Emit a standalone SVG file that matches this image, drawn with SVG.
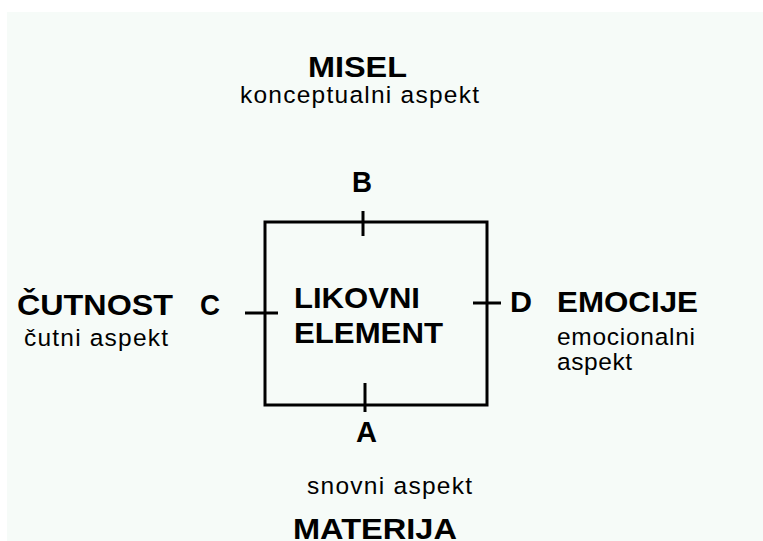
<svg xmlns="http://www.w3.org/2000/svg" width="763" height="541" viewBox="0 0 763 541">
<style>
.t{font-family:"Liberation Sans",Arial,sans-serif;font-weight:bold;font-size:30px;fill:#000}
.s{font-family:"Liberation Sans",Arial,sans-serif;font-size:24.5px;fill:#000}
.ln{stroke:#000;stroke-width:3;fill:none}
</style>
<rect x="0" y="0" width="763" height="541" fill="#ffffff"/>
<rect x="7" y="12" width="756" height="529" fill="#f6fbf8"/>
<g id="box">
<rect class="ln" x="265" y="222" width="222" height="183"/>
<text class="t" x="294" y="307.5" textLength="126" lengthAdjust="spacingAndGlyphs">LIKOVNI</text>
<text class="t" x="294" y="342.5" textLength="149" lengthAdjust="spacingAndGlyphs">ELEMENT</text>
</g>
<g id="connectors">
<line class="ln" x1="363" y1="211" x2="363" y2="236"/>
<line class="ln" x1="365" y1="383" x2="365" y2="412"/>
<line class="ln" x1="245" y1="313" x2="278" y2="313"/>
<line class="ln" x1="473" y1="303" x2="501" y2="303"/>
</g>
<g id="misel">
<text class="t" x="308" y="77" textLength="99" lengthAdjust="spacingAndGlyphs">MISEL</text>
<text class="s" x="240" y="103" textLength="239" lengthAdjust="spacing">konceptualni  aspekt</text>
</g>
<g id="b"><text class="t" x="352" y="192" textLength="20" lengthAdjust="spacingAndGlyphs">B</text></g>
<g id="cutnost">
<text class="t" x="17" y="315" textLength="156" lengthAdjust="spacingAndGlyphs">ČUTNOST</text>
<text class="s" x="24" y="346" textLength="144" lengthAdjust="spacing">čutni  aspekt</text>
</g>
<g id="c"><text class="t" x="200" y="315" textLength="20" lengthAdjust="spacingAndGlyphs">C</text></g>
<g id="d"><text class="t" x="510" y="312" textLength="22" lengthAdjust="spacingAndGlyphs">D</text></g>
<g id="emocije">
<text class="t" x="557" y="312" textLength="141" lengthAdjust="spacingAndGlyphs">EMOCIJE</text>
<text class="s" x="557" y="345" textLength="138" lengthAdjust="spacing">emocionalni</text>
<text class="s" x="557" y="370" textLength="75" lengthAdjust="spacing">aspekt</text>
</g>
<g id="a"><text class="t" x="356" y="442" textLength="21" lengthAdjust="spacingAndGlyphs">A</text></g>
<g id="materija">
<text class="s" x="307" y="494" textLength="165" lengthAdjust="spacing">snovni  aspekt</text>
<text class="t" x="293" y="539" textLength="164" lengthAdjust="spacingAndGlyphs">MATERIJA</text>
</g>
</svg>
